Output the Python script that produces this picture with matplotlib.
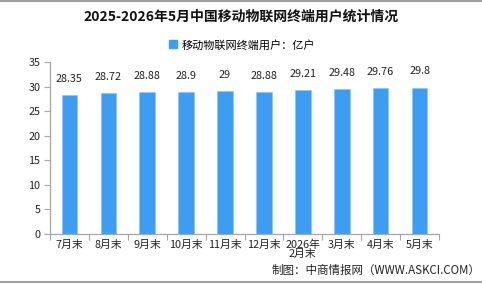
import matplotlib
matplotlib.use("Agg")
import matplotlib.pyplot as plt
from matplotlib.lines import Line2D

plt.rcParams['font.family'] = ['Noto Sans CJK SC', 'DejaVu Sans']

categories = ["7月末", "8月末", "9月末", "10月末", "11月末", "12月末", "2026年\n2月末", "3月末", "4月末", "5月末"]
values = [28.35, 28.72, 28.88, 28.9, 29, 28.88, 29.21, 29.48, 29.76, 29.8]
value_labels = ["28.35", "28.72", "28.88", "28.9", "29", "28.88", "29.21", "29.48", "29.76", "29.8"]
yticks = [0, 5, 10, 15, 20, 25, 30, 35]

title = "2025-2026年5月中国移动物联网终端用户统计情况"
legend_label = "移动物联网终端用户：亿户"
credit = "制图：中商情报网（WWW.ASKCI.COM）"

bar_color = "#3d9df2"
spine_color = "#a6a6a6"

fig = plt.figure(figsize=(4.82, 2.84), dpi=100)
ax = fig.add_axes([50/482, 1-234/284, 389/482, 172/284])

x = list(range(len(categories)))
bars = ax.bar(x, values, width=0.4, color=bar_color, edgecolor="#8cc4f7", linewidth=0.4, zorder=2)

for xi, v, lab in zip(x, values, value_labels):
    ax.annotate(lab, (xi, v), xytext=(0, 8), textcoords="offset points",
                ha="center", va="bottom", fontsize=7.8, color="#222222")

ax.set_xlim(-0.5, len(categories) - 0.5)
ax.set_ylim(0, 35)
ax.set_yticks(yticks)
ax.set_yticklabels([str(t) for t in yticks], fontsize=7.8, color="#222222")
ax.set_xticks(x)
ax.set_xticklabels(categories, fontsize=7.8, color="#222222", linespacing=0.95)
ax.tick_params(axis="x", length=0, pad=4)
ax.set_xticks([i - 0.5 for i in range(len(categories) + 1)], minor=True)
ax.tick_params(axis="x", which="minor", length=4, color=spine_color, width=0.8)
ax.tick_params(axis="y", length=4, color=spine_color, width=0.8, pad=3)

for s in ["top", "right"]:
    ax.spines[s].set_visible(False)
for s in ["left", "bottom"]:
    ax.spines[s].set_color(spine_color)
    ax.spines[s].set_linewidth(0.9)

fig.text(0.5, 1-17/284, title, ha="center", va="center", fontsize=10, fontweight="bold", color="#111111")

handle = Line2D([], [], marker="s", linestyle="none", markersize=6, markerfacecolor=bar_color, markeredgecolor=bar_color)
fig.legend([handle], [legend_label], loc="center", bbox_to_anchor=(0.5, 1-45/284), frameon=False,
           fontsize=8, handletextpad=0.3, handlelength=1.0)

fig.text(0.997, 1-270/284, credit, ha="right", va="center", fontsize=8.3, color="#222222")

fig.add_artist(Line2D([0, 1], [0.998, 0.998], transform=fig.transFigure, color="#a0a0a0", linewidth=1.5))
fig.add_artist(Line2D([0, 1], [1-282/284, 1-282/284], transform=fig.transFigure, color="#a0a0a0", linewidth=1.5))

fig.savefig("out.png", dpi=100)
